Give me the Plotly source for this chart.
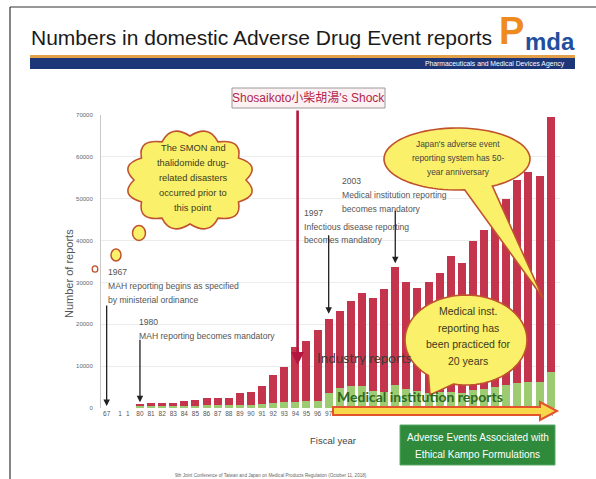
import plotly.graph_objects as go
import math

# ---------------- data ----------------
fiscal_years = ["80", "81", "82", "83", "84", "85", "86", "87", "88", "89",
                "90", "91", "92", "93", "94", "95", "96", "97", "98", "99",
                "00", "01", "02", "03", "04", "05", "06", "07", "08", "09",
                "10", "11", "12", "13", "14", "15", "16", "17"]
industry_reports = [500, 700, 650, 800, 1150, 1350, 1700, 1700, 1850, 2800,
                    3000, 4300, 6800, 8400, 13100, 14300, 16900, 17800, 18400, 20400,
                    22300, 22400, 24600, 28100, 25600, 24700, 26500, 28300, 32600, 31000,
                    35700, 38000, 40500, 44600, 48500, 50300, 49400, 61000]
medical_reports = [400, 400, 450, 500, 550, 550, 600, 600, 650, 800,
                   800, 1000, 1200, 1500, 1500, 1600, 1700, 3500, 4800, 5200,
                   5200, 4000, 3900, 5500, 4500, 4000, 3700, 3900, 3800, 3700,
                   4300, 4500, 5000, 5400, 6000, 6200, 6100, 8500]
early_tick_pos = [-3, -1.8, -1.1]
early_tick_text = ["67", "1", "1"]
y_ticks = [0, 10000, 20000, 30000, 40000, 50000, 60000, 70000]

# ---------------- geometry helpers ----------------
W, H = 596, 479
L, R, T, B = 101, 560, 115, 408
def fx(x): return (x - L) / (R - L)
def fy(y): return (B - y) / (B - T)

SANS = "Liberation Sans, Arial, sans-serif"
xpos = list(range(len(fiscal_years)))

fig = go.Figure()
fig.add_trace(go.Bar(x=xpos, y=medical_reports, name="Medical institution reports",
                     marker=dict(color="#9ccb72", line=dict(width=0)), width=0.72))
fig.add_trace(go.Bar(x=xpos, y=industry_reports, name="Industry reports",
                     marker=dict(color="#c4354d", line=dict(width=0)), width=0.72))

ann = []
shapes = []

def text(x, y, s, size, color, family=SANS, xanchor="left", bold=False):
    if bold:
        s = "<b>" + s + "</b>"
    ann.append(dict(xref="paper", yref="paper", x=fx(x), y=fy(y), text=s, showarrow=False,
                    xanchor=xanchor, yanchor="middle",
                    font=dict(size=size, color=color, family=family)))

def lines(x, y0, dy, items, size, color, family=SANS, xanchor="left", bold=False):
    for i, s in enumerate(items):
        text(x, y0 + i * dy, s, size, color, family, xanchor, bold)

def path_of(pts):
    return "M " + " L ".join(f"{fx(px):.5f},{fy(py):.5f}" for px, py in pts) + " Z"

def rect(x0, y0, x1, y1, fill, line_color=None, lw=0):
    shapes.append(dict(type="rect", xref="paper", yref="paper", x0=fx(x0), x1=fx(x1),
                       y0=fy(y1), y1=fy(y0), fillcolor=fill,
                       line=dict(color=line_color or fill, width=lw), layer="above"))

def ellipse(cx, cy, rx, ry, fill, line_color, lw):
    shapes.append(dict(type="circle", xref="paper", yref="paper", x0=fx(cx - rx), x1=fx(cx + rx),
                       y0=fy(cy + ry), y1=fy(cy - ry), fillcolor=fill,
                       line=dict(color=line_color, width=lw), layer="above"))

def bubble(cx, cy, rx, ry, a1, a2, tip, fill, line_color, lw):
    pts = []
    n = 80
    for i in range(n + 1):
        t = math.radians(a2 + (360 - (a2 - a1)) * i / n)
        pts.append((cx + rx * math.cos(t), cy + ry * math.sin(t)))
    pts.append(tip)
    shapes.append(dict(type="path", xref="paper", yref="paper", path=path_of(pts),
                       fillcolor=fill, line=dict(color=line_color, width=lw), layer="above"))

def cloud(cx, cy, rx, ry, nb, fill, line_color, lw):
    d = ""
    for i in range(nb):
        t0 = 2 * math.pi * i / nb
        t1 = 2 * math.pi * (i + 1) / nb
        tm = (t0 + t1) / 2
        p0 = (cx + rx * math.cos(t0), cy + ry * math.sin(t0))
        p1 = (cx + rx * math.cos(t1), cy + ry * math.sin(t1))
        pc = (cx + rx * 1.32 * math.cos(tm), cy + ry * 1.32 * math.sin(tm))
        if i == 0:
            d += f"M {fx(p0[0]):.5f},{fy(p0[1]):.5f} "
        d += f"Q {fx(pc[0]):.5f},{fy(pc[1]):.5f} {fx(p1[0]):.5f},{fy(p1[1]):.5f} "
    d += "Z"
    shapes.append(dict(type="path", xref="paper", yref="paper", path=d,
                       fillcolor=fill, line=dict(color=line_color, width=lw), layer="above"))

# ---------------- slide frame & header ----------------
shapes.append(dict(type="line", xref="paper", yref="paper", x0=fx(10), x1=fx(596), y0=fy(7), y1=fy(7),
                   line=dict(color="#333", width=1.2), layer="above"))
shapes.append(dict(type="line", xref="paper", yref="paper", x0=fx(10), x1=fx(10), y0=fy(7), y1=fy(479),
                   line=dict(color="#333", width=1.2), layer="above"))
rect(30, 55, 575, 58, "#e2a04a")
rect(30, 58, 575, 69, "#1d3677")
text(567, 64, "Pharmaceuticals and Medical Devices Agency", 6.8, "#ffffff", xanchor="right")
text(29, 37, "Numbers in domestic Adverse Drug Event reports", 21, "#1a1a1a", xanchor="left")
text(511, 31, "P", 38, "#ef8a1f", xanchor="center", bold=True)
text(550, 41, "mda", 24, "#1f4f9e", xanchor="center", bold=True)

# ---------------- axis titles ----------------
ann.append(dict(xref="paper", yref="paper", x=fx(69), y=fy(274), text="Number of reports",
                showarrow=False, textangle=-90, xanchor="center", yanchor="middle",
                font=dict(size=11, color="#555", family=SANS)))
text(333, 441, "Fiscal year", 9.5, "#444", xanchor="center")

# ---------------- event annotations ----------------
gray = "#555555"
fs = 8.6
lines(106, 272, 14, ["1967", "MAH reporting begins as specified", "by ministerial ordinance"], fs, gray)
lines(137, 322, 14, ["1980", "MAH reporting becomes mandatory"], fs, gray)
lines(302, 213, 13.5, ["1997", "Infectious disease reporting", "becomes mandatory"], fs, gray)
lines(340, 181, 14, ["2003", "Medical institution reporting", "becomes mandatory"], fs, gray)

def arrow(xv, yv, ay, color="#222", width=1.3, head=2):
    ann.append(dict(x=xv, y=yv, xref="x", yref="y", ax=0, ay=ay, axref="pixel", ayref="pixel",
                    text="", showarrow=True, arrowhead=head, arrowsize=1, arrowwidth=width,
                    arrowcolor=color))

arrow(-3, 500, -102)
arrow(0, 1400, -64)
arrow(17, 22500, -80)
arrow(23, 34600, -54)
arrow(14.2, 10300, -256, color="#b3173f", width=2.6, head=2)

# Shosaikoto box
rect(232, 88, 385, 108, "#fcf1f3", "#9a9a9a", 1)
text(308.5, 98, "Shosaikoto小柴胡湯's Shock", 12, "#b3254a",
     family="Liberation Sans, Noto Sans CJK JP", xanchor="center")

# thought cloud
yellow = "#faf06a"
edge = "#c0522e"
cloud(190, 180, 56, 44, 12, yellow, edge, 1.6)
ellipse(139, 233, 6.5, 7.5, yellow, edge, 1.5)
ellipse(116, 255, 5, 6, yellow, edge, 1.5)
ellipse(95, 269, 2.8, 3.2, "#ffffff", edge, 1.3)
lines(193, 148, 15, ["The SMON and", "thalidomide drug-", "related disasters",
                     "occurred prior to", "this point"], 9.3, "#3b3b1e", xanchor="center")

# Japan's 50-year bubble
bubble(457, 159, 73, 31, 61, 84, (543, 298), yellow, edge, 1.6)
lines(458, 144, 14, ["Japan's adverse event", "reporting system has 50-", "year anniversary"],
      8.4, "#444", xanchor="center")

# Medical inst. bubble
bubble(466, 340, 61, 45, 102, 128, (430, 395), yellow, edge, 1.6)
lines(468, 311, 16.5, ["Medical inst.", "reporting has", "been practiced for", "20 years"],
      10.5, "#3a3a1a", xanchor="center")

# series labels
text(315, 358, "Industry reports", 13.5, "#3f3a33", family="Lato", xanchor="left")
text(335, 396, "Medical institution reports", 14, "#2e6a1e", family="Lato", xanchor="left", bold=True)

# orange arrow
arrow_pts = [(333, 407), (540, 407), (540, 402), (557, 411), (540, 420), (540, 415), (333, 415)]
shapes.append(dict(type="path", xref="paper", yref="paper", path=path_of(arrow_pts),
                   fillcolor="#f7d84a", line=dict(color="#e2552b", width=2), layer="above"))

# green box
rect(400, 425, 555, 465, "#2f8a3b", "#5aa866", 1)
lines(477.5, 437, 17, ["Adverse Events Associated with", "Ethical Kampo Formulations"],
      10, "#ffffff", xanchor="center")

# footer
text(271, 475, "9th Joint Conference of Taiwan and Japan on Medical Products Regulation (October 11, 2018)",
     4.6, "#666", xanchor="center")

fig.update_layout(
    width=W, height=H, barmode="stack", showlegend=False,
    paper_bgcolor="white", plot_bgcolor="white",
    margin=dict(l=L, r=W - R, t=T, b=H - B, pad=0),
    xaxis=dict(range=[-3.51, 37.84], tickmode="array",
               tickvals=early_tick_pos + xpos, ticktext=early_tick_text + fiscal_years,
               tickfont=dict(size=6.5, color="#555", family=SANS),
               showgrid=False, zeroline=False, showline=False, ticks="", ticklen=0),
    yaxis=dict(range=[0, 70000], tickvals=y_ticks, tickformat="d",
               tickfont=dict(size=6, color="#666", family=SANS),
               showgrid=True, gridcolor="#ececec", gridwidth=1, zeroline=False,
               showline=True, linecolor="#c8c8c8", linewidth=1, ticks="", ticklabelstandoff=6),
    annotations=ann, shapes=shapes,
)

fig.write_html("out.html")
